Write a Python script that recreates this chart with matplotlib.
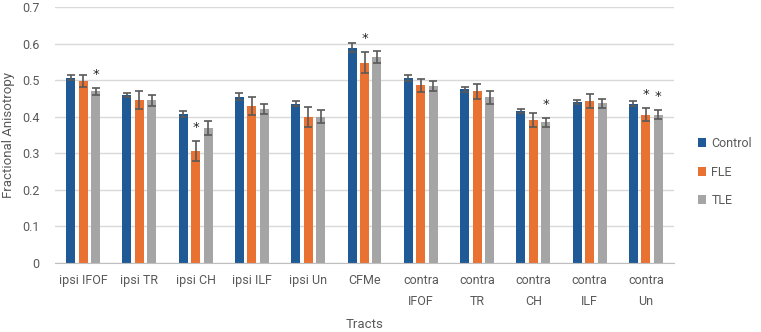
import matplotlib
matplotlib.use("Agg")
import matplotlib.pyplot as plt
from matplotlib import font_manager
import numpy as np

categories = ["ipsi IFOF", "ipsi TR", "ipsi CH", "ipsi ILF", "ipsi Un", "CFMe",
              "contra\nIFOF", "contra\nTR", "contra\nCH", "contra\nILF", "contra\nUn"]
series = ["Control", "FLE", "TLE"]
control = [0.507, 0.460, 0.407, 0.455, 0.435, 0.589, 0.505, 0.475, 0.415, 0.440, 0.435]
fle     = [0.498, 0.445, 0.306, 0.429, 0.400, 0.548, 0.486, 0.469, 0.391, 0.443, 0.406]
tle     = [0.469, 0.445, 0.369, 0.421, 0.400, 0.563, 0.483, 0.453, 0.385, 0.437, 0.406]
control_err = [0.006, 0.006, 0.009, 0.009, 0.007, 0.012, 0.008, 0.007, 0.005, 0.006, 0.007]
fle_err     = [0.016, 0.025, 0.027, 0.025, 0.027, 0.029, 0.018, 0.021, 0.018, 0.018, 0.019]
tle_err     = [0.010, 0.015, 0.018, 0.014, 0.017, 0.017, 0.014, 0.017, 0.012, 0.012, 0.013]
# significance stars: (category index, series index)
stars = [(0, 2), (2, 1), (5, 1), (8, 2), (10, 1), (10, 2)]
yticks = [0, 0.1, 0.2, 0.3, 0.4, 0.5, 0.6, 0.7]
ytick_labels = ["0", "0.1", "0.2", "0.3", "0.4", "0.5", "0.6", "0.7"]

available = {f.name for f in font_manager.fontManager.ttflist}
narrow = "Liberation Sans Narrow" if "Liberation Sans Narrow" in available else "Roboto"
plt.rcParams["font.family"] = ["Roboto", "DejaVu Sans"]

colors = ["#1F5A97", "#E97132", "#A5A5A5"]
err_color = "#595959"

fig = plt.figure(figsize=(7.61, 3.32), dpi=100)
ax = fig.add_axes([55 / 761, 1 - 263 / 332, (674 - 55) / 761, (263 - 7) / 332])

x = np.arange(len(categories))
width = 0.16
pitch = 0.222
vals = [control, fle, tle]
errs = [control_err, fle_err, tle_err]
for i, (v, e, c, name) in enumerate(zip(vals, errs, colors, series)):
    ax.bar(x + (i - 1) * pitch, v, width, color=c, label=name, zorder=3,
           yerr=e, error_kw=dict(ecolor=err_color, elinewidth=1.2, capsize=3, capthick=1.2, zorder=4))

for ci, si in stars:
    top = vals[si][ci] + errs[si][ci]
    ax.annotate("*", xy=(ci + (si - 1) * pitch, top), xytext=(0, 5), textcoords="offset points",
                ha="center", va="bottom", fontsize=9.5, color="#222222", family="DejaVu Sans")

ax.set_xlim(-0.5, len(categories) - 0.5)
ax.set_ylim(0, 0.7)
ax.set_yticks(yticks)
ax.set_yticklabels(ytick_labels)
ax.set_xticks(x)
ax.set_xticklabels(categories, family=narrow, fontsize=8.8, linespacing=1.8, va="top")
ax.tick_params(axis="both", length=0, colors="#595959", labelsize=9)
ax.tick_params(axis="y", pad=11)
ax.tick_params(axis="x", pad=8)
ax.grid(axis="y", color="#D9D9D9", linewidth=1, zorder=0)
for s in ["top", "right", "left"]:
    ax.spines[s].set_visible(False)
ax.spines["bottom"].set_color("#BFBFBF")
ax.spines["bottom"].set_zorder(5)

ax.set_ylabel("Fractional Anisotropy", fontsize=9.5, color="#595959", labelpad=5)
ax.set_xlabel("Tracts", fontsize=9.5, color="#595959", family=narrow, va="center")
ax.xaxis.set_label_coords(0.5, -(325 - 263) / 256)

leg = ax.legend(loc="center left", bbox_to_anchor=(1.02, 0.355), frameon=False,
                prop={"family": narrow, "size": 9}, labelspacing=1.25,
                handlelength=0.7, handleheight=0.7, handletextpad=0.4)
for t in leg.get_texts():
    t.set_color("#595959")

fig.savefig("out.png", dpi=100)
